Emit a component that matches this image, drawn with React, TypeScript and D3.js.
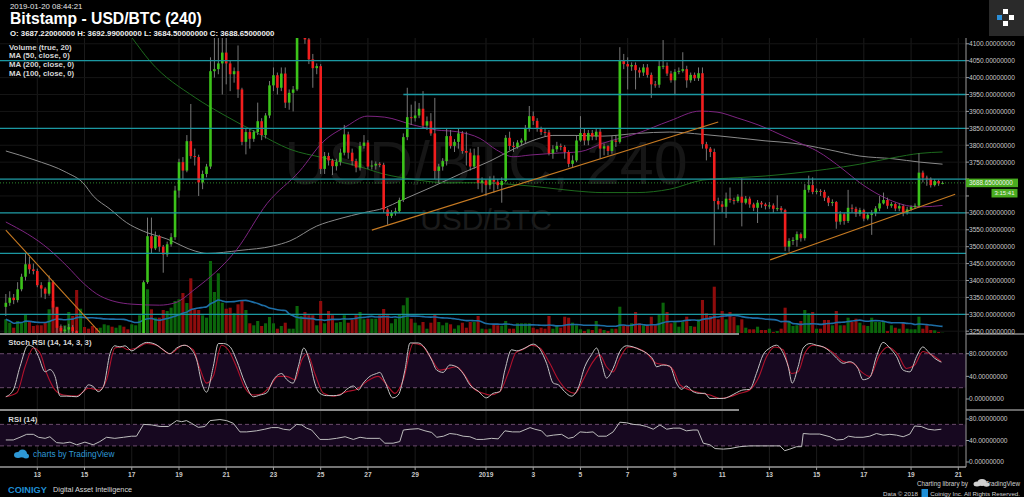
import React from "react";
import * as d3 from "d3";

// ---------- data ----------
const START = Date.UTC(2018, 11, 11, 16); // first 4h bar
const BAR_MS = 4 * 3600 * 1000;
const firstOpen = 3322;

const closes = [
  3334, 3349, 3342, 3374, 3411, 3448, 3433, 3428, 3386, 3376,
  3361, 3395, 3320, 3260, 3250, 3255, 3262, 3250, 3215, 3228,
  3205, 3195, 3185, 3180, 3195, 3205, 3212, 3200, 3210, 3218,
  3208, 3200, 3212, 3222, 3240, 3395, 3531, 3495, 3531, 3500,
  3477, 3507, 3528, 3666, 3750, 3725, 3812, 3768, 3765, 3690,
  3715, 3737, 4019, 4025, 4042, 4074, 4042, 4010, 4019, 3965,
  3810, 3839, 3819, 3839, 3871, 3830, 3888, 3977, 4007, 3970,
  4012, 3926, 3955, 3965, 4140, 4180, 4113, 4054, 4028, 4034,
  3730, 3768, 3755, 3738, 3751, 3778, 3832, 3778, 3753, 3734,
  3798, 3808, 3737, 3740, 3745, 3742, 3610, 3591, 3600, 3605,
  3638, 3824, 3883, 3880, 3888, 3908, 3858, 3871, 3835, 3724,
  3737, 3753, 3827, 3798, 3810, 3835, 3783, 3778, 3737, 3770,
  3689, 3696, 3682, 3699, 3692, 3682, 3694, 3822, 3798, 3795,
  3808, 3814, 3849, 3886, 3872, 3849, 3839, 3838, 3776, 3788,
  3798, 3795, 3780, 3745, 3755, 3814, 3836, 3814, 3836, 3826,
  3840, 3790, 3797, 3783, 3814, 3810, 4050, 4040, 4033, 4037,
  4022, 4015, 4030, 4008, 3980, 3979, 4034, 4035, 4012, 3992,
  4017, 4020, 4025, 3992, 4008, 3998, 4013, 3803, 3790, 3780,
  3635, 3625, 3618, 3642, 3638, 3635, 3648, 3630, 3642, 3625,
  3615, 3630, 3625, 3620, 3622, 3612, 3614, 3608, 3500, 3517,
  3520, 3537, 3525, 3668, 3682, 3662, 3665, 3662, 3645, 3630,
  3632, 3574, 3596, 3576, 3615, 3612, 3597, 3608, 3583, 3594,
  3599, 3613, 3628, 3638, 3621, 3626, 3613, 3620, 3600, 3610,
  3617, 3621, 3719, 3704, 3701, 3682, 3694, 3687.22, 3688.65,
];

const highs = [
  3360, 3368, 3360, 3395, 3420, 3482, 3470, 3450, 3435, 3395,
  3380, 3415, 3400, 3322, 3270, 3265, 3272, 3268, 3252, 3238,
  3232, 3210, 3200, 3192, 3200, 3212, 3222, 3218, 3216, 3226,
  3225, 3212, 3220, 3230, 3244, 3400, 3586, 3586, 3545, 3535,
  3505, 3515, 3540, 3680, 3760, 3765, 3830, 3922, 3790, 3772,
  3725, 3745, 4060, 4150, 4150, 4150, 4140, 4050, 4030, 4095,
  3970, 3850, 3850, 3845, 3926, 3880, 3895, 3990, 4030, 4015,
  4030, 4030, 3965, 3975, 4170, 4230, 4190, 4120, 4070, 4042,
  4040, 3780, 3778, 3760, 3760, 3790, 3860, 3840, 3790, 3760,
  3810, 3830, 3815, 3755, 3752, 3750, 3748, 3615, 3608, 3615,
  3645, 3835, 3970, 3920, 3930, 3925, 3960, 3885, 3895, 3940,
  3745, 3762, 3850, 3845, 3818, 3850, 3842, 3840, 3790, 3790,
  3795, 3705, 3700, 3708, 3710, 3700, 3705, 3830, 3840, 3810,
  3815, 3820, 3860, 3916, 3900, 3880, 3855, 3848, 3845, 3800,
  3810, 3805, 3800, 3785, 3770, 3830, 3886, 3850, 3845, 3845,
  3850, 3848, 3805, 3800, 3830, 3830, 4090, 4070, 4060, 4045,
  4045, 4030, 4040, 4040, 4015, 3990, 4050, 4111, 4045, 4020,
  4025, 4030, 4075, 4035, 4015, 4015, 4030, 4030, 3810, 3795,
  3790, 3645, 3635, 3660, 3675, 3645, 3655, 3702, 3650, 3648,
  3630, 3638, 3635, 3630, 3632, 3628, 3652, 3620, 3612, 3525,
  3528, 3545, 3542, 3685, 3710, 3705, 3672, 3670, 3668, 3650,
  3640, 3635, 3605, 3600, 3668, 3625, 3618, 3615, 3612, 3600,
  3608, 3620, 3650, 3660, 3645, 3632, 3630, 3628, 3625, 3618,
  3622, 3628, 3776, 3725, 3710, 3705, 3700, 3698, 3692.99,
];

const lows = [
  3295, 3325, 3330, 3335, 3368, 3400, 3420, 3418, 3380, 3350,
  3345, 3355, 3300, 3245, 3235, 3240, 3245, 3235, 3205, 3208,
  3195, 3185, 3175, 3170, 3172, 3190, 3198, 3192, 3195, 3205,
  3200, 3192, 3195, 3205, 3215, 3235, 3390, 3480, 3490, 3485,
  3423, 3470, 3500, 3520, 3645, 3700, 3720, 3760, 3740, 3650,
  3670, 3705, 3730, 4000, 4010, 3950, 3980, 3960, 3985, 3940,
  3800, 3773, 3790, 3810, 3830, 3815, 3820, 3880, 3960, 3950,
  3960, 3910, 3905, 3900, 3960, 4120, 4100, 4040, 3970, 4010,
  3715, 3715, 3740, 3712, 3725, 3740, 3770, 3760, 3740, 3720,
  3725, 3790, 3730, 3728, 3728, 3735, 3600, 3565, 3585, 3592,
  3600, 3632, 3815, 3860, 3870, 3880, 3850, 3845, 3828, 3700,
  3689, 3725, 3740, 3790, 3780, 3790, 3775, 3740, 3725, 3730,
  3670, 3660, 3650, 3670, 3660, 3670, 3630, 3690, 3785, 3780,
  3790, 3800, 3805, 3840, 3860, 3840, 3830, 3825, 3770, 3760,
  3780, 3785, 3760, 3735, 3733, 3750, 3810, 3800, 3800, 3815,
  3815, 3760, 3770, 3770, 3775, 3795, 3805, 4025, 3965, 4020,
  3965, 4000, 4005, 4000, 3940, 3970, 3970, 4025, 4005, 3985,
  3950, 4010, 4015, 3970, 3985, 3990, 3990, 3790, 3755, 3765,
  3504, 3610, 3600, 3585, 3630, 3625, 3630, 3560, 3625, 3615,
  3605, 3570, 3615, 3610, 3612, 3600, 3605, 3600, 3487, 3485,
  3505, 3500, 3515, 3518, 3660, 3655, 3655, 3650, 3635, 3620,
  3620, 3553, 3565, 3565, 3570, 3600, 3588, 3590, 3575, 3578,
  3535, 3590, 3605, 3625, 3612, 3615, 3605, 3605, 3590, 3595,
  3605, 3612, 3615, 3690, 3680, 3675, 3678, 3680, 3684.5,
];

const volumes = [
  1370, 1030, 530, 1200, 1100, 1870, 1100, 700, 770, 770,
  1030, 2370, 3200, 2630, 700, 770, 2100, 1700, 4300, 2430,
  600, 430, 700, 500, 530, 870, 770, 630, 530, 770,
  630, 370, 870, 770, 1770, 5000, 4370, 2370, 1530, 1530,
  2300, 2200, 2530, 3200, 3370, 4000, 3000, 5470, 2370, 2300,
  1770, 1530, 7200, 4100, 5970, 3030, 2430, 2530, 1970, 2870,
  3270, 2300, 970, 770, 1200, 700, 970, 1600, 970, 430,
  700, 1030, 430, 430, 2700, 1700, 2100, 1770, 1770, 770,
  3200, 970, 2200, 1770, 1030, 1100, 1770, 1030, 1300, 1770,
  2100, 1370, 1430, 1430, 1430, 1770, 2400, 1770, 970, 1430,
  1870, 2770, 3530, 1430, 1030, 770, 1100, 430, 1030, 1870,
  1100, 770, 1030, 870, 430, 770, 1030, 530, 1100, 1100,
  1700, 430, 370, 430, 870, 770, 700, 1200, 430, 430,
  970, 970, 970, 970, 530, 370, 530, 430, 1700, 430,
  770, 530, 1630, 1530, 1030, 770, 370, 200, 370, 300,
  1200, 430, 300, 200, 430, 430, 2630, 770, 770, 970,
  2100, 970, 770, 770, 1630, 770, 1870, 3030, 2100, 970,
  1200, 630, 1100, 1630, 700, 630, 1370, 3300, 1970, 1700,
  4630, 1370, 2200, 1370, 2100, 1630, 770, 1370, 530, 370,
  370, 630, 300, 300, 430, 100, 200, 430, 2530, 1100,
  700, 770, 1200, 2300, 1970, 2100, 430, 430, 1300, 1300,
  770, 2200, 770, 770, 1530, 1100, 1430, 1030, 770, 700,
  1530, 1100, 1100, 1100, 200, 770, 530, 430, 1030, 430,
  370, 370, 1630, 430, 770, 300, 270, 100, 30,
];

// moving averages: [bar index, price]
const ma50: [number, number][] = [
  [0, 3573], [11, 3492], [15.5, 3443], [20, 3389], [24, 3354], [32, 3330], [39, 3327], [43, 3334],
  [48, 3374], [58.7, 3492], [66.4, 3628], [74.7, 3724], [80.6, 3810], [86.7, 3857], [91.8, 3886],
  [96.3, 3883], [103.5, 3860], [109.5, 3845], [114.6, 3840], [120.5, 3820], [124.7, 3786],
  [128.9, 3766], [133.2, 3771], [139, 3776], [145.9, 3781], [151.7, 3806], [160.4, 3835],
  [168.7, 3872], [176.4, 3901], [180.7, 3898], [185.8, 3881], [192.9, 3852], [196.7, 3832],
  [201.8, 3806], [206.1, 3783], [212.7, 3729], [217, 3689], [222.1, 3652], [226.4, 3630],
  [229.7, 3620], [233, 3618], [238, 3622],
];
const ma100: [number, number][] = [
  [0, 3783], [6.9, 3758], [15.5, 3719], [19.6, 3689], [22.2, 3650], [26.5, 3611], [30.7, 3571],
  [34.9, 3546], [40.9, 3523], [48.1, 3487], [51.1, 3480], [59.5, 3489], [67.9, 3502], [72.2, 3517],
  [79, 3561], [84.9, 3583], [90.7, 3600], [96.3, 3615], [100.1, 3635], [107.8, 3674], [116.2, 3719],
  [123, 3753], [128.9, 3788], [134.9, 3818], [139, 3829], [144.6, 3829], [151.7, 3827],
  [160.4, 3835], [168.7, 3839], [177.1, 3832], [185.8, 3822], [192.9, 3813], [200, 3806],
  [208.6, 3788], [217, 3768], [225.4, 3760], [232.3, 3750], [238, 3744],
];
const ma200: [number, number][] = [
  [28, 4180], [32.3, 4114], [36.6, 4049], [48.1, 3941], [55.2, 3891], [63.8, 3837], [72.2, 3788],
  [80.6, 3763], [89.2, 3739], [96.3, 3714], [103.5, 3699], [112.1, 3689], [120.5, 3689],
  [128.9, 3684], [137.5, 3674], [144.6, 3665], [151.7, 3660], [160.4, 3660], [168.7, 3670],
  [177.1, 3697], [185.8, 3704], [192.9, 3709], [200, 3717], [208.6, 3729], [217, 3744],
  [225.4, 3763], [232.3, 3776], [238, 3780],
];

const stochK: [number, number][] = [
  [0, 4], [1.9, 16], [3.6, 57], [5.7, 95], [7, 92], [8.3, 75], [10, 48], [11.2, 52], [12.5, 40], [13.8, 5],
  [15.5, 5], [18, 4], [19.7, 13], [21, 25], [22.2, 22], [23.5, 13], [24.8, 22], [26.5, 81], [27.7, 94],
  [29, 92], [30.3, 94], [32, 85], [34.1, 95], [35.8, 100], [37.9, 97], [40, 87], [41.7, 80], [43.4, 90],
  [45.5, 95], [47.2, 87], [48.5, 69], [49.8, 28], [51, 12], [52.7, 57], [54, 98], [55.3, 98], [57, 92],
  [58.6, 69], [60.8, 28], [62.9, 4], [64.6, 7], [66.3, 11], [68, 34], [70.1, 45], [71.3, 35], [73, 28],
  [74.3, 57], [75.7, 90], [77.3, 63], [78.5, 28], [79.8, 10], [81.5, 6], [83.2, 6], [84.9, 7], [86.6, 17],
  [88.3, 23], [89.6, 16], [90.8, 28], [92.5, 40], [94.2, 45], [95, 47], [96.3, 31], [98.3, 2], [99.7, 7],
  [101.4, 51], [102.7, 99], [104.8, 99], [106.5, 90], [108.2, 69], [109.5, 51], [111.1, 47], [112.8, 60],
  [114.5, 57], [116.2, 45], [117.9, 25], [120, 14], [122.1, 2], [123.8, 10], [125.5, 13], [126.8, 51],
  [128.5, 87], [129.8, 85], [131.9, 90], [134, 97], [135.7, 88], [137.4, 63], [139.1, 28], [140.4, 25],
  [142, 13], [143.7, 5], [145.4, 19], [147.1, 57], [148.8, 78], [150.1, 90], [151.4, 63], [152.6, 37],
  [154.3, 54], [156, 84], [157.7, 94], [159.4, 92], [161.1, 87], [162.8, 81], [164.5, 69], [165.3, 57],
  [167, 60], [168.7, 58], [170.4, 28], [171.7, 17], [172.9, 23], [174.6, 13], [176.3, 10], [177.6, 10],
  [178.9, 1], [180.6, 1], [182.3, 1], [184, 5], [185.6, 11], [187.3, 16], [189, 17], [190.7, 45],
  [192.4, 78], [194.1, 90], [195.8, 95], [197.5, 81], [198.8, 57], [199.8, 28], [201.3, 57], [202.6, 90],
  [204.3, 98], [206, 95], [207.7, 92], [209.4, 84], [211.1, 72], [212.8, 63], [214.4, 66], [216.5, 54],
  [217.8, 34], [219.5, 38], [221.2, 75], [222.9, 100], [224.6, 90], [226.3, 75], [228, 51], [229.7, 48],
  [231.4, 75], [233, 92], [234.3, 84], [236, 72], [237.7, 65],
];
const stochD: [number, number][] = [
  [0, 4], [2.8, 11], [4.9, 57], [7, 90], [8.7, 81], [10.4, 45], [12.5, 16], [14.6, 7], [18, 5], [21, 19],
  [23.9, 16], [25.6, 34], [27.7, 90], [29.4, 92], [31.1, 87], [33.2, 90], [35.8, 98], [38.3, 95],
  [41.7, 80], [45.1, 95], [47.6, 87], [49.3, 54], [51, 28], [52.7, 40], [54.8, 95], [56.5, 87],
  [58.6, 57], [60.8, 19], [62.9, 7], [65, 9], [67.1, 22], [69.2, 40], [71.3, 40], [73.5, 34], [75.2, 69],
  [76.6, 80], [78.5, 45], [80.7, 10], [83.2, 5], [86.6, 13], [89.1, 17], [91.7, 31], [94.6, 40],
  [96.8, 25], [98.9, 10], [101, 34], [103.5, 98], [105.6, 95], [107.8, 75], [110.3, 51], [112.4, 54],
  [114.5, 57], [116.6, 42], [118.8, 19], [121.3, 10], [123, 7], [125.5, 13], [127.6, 45], [129.6, 82],
  [131.5, 88], [133.6, 95], [135.7, 90], [138.2, 63], [140.4, 34], [142.5, 16], [144.6, 10], [146.7, 34],
  [149.2, 66], [150.9, 78], [152.6, 57], [154.3, 48], [156, 72], [158.1, 92], [160.3, 90], [162.8, 81],
  [165.3, 63], [167.9, 60], [169.6, 51], [171.3, 25], [173.8, 16], [176.3, 11], [178.9, 7], [181.4, 1],
  [184, 4], [186.5, 10], [189, 16], [191.2, 37], [193.3, 75], [195.4, 92], [197.5, 87], [199.6, 45],
  [201.3, 48], [203, 81], [205.1, 95], [207.7, 92], [210.2, 82], [212.8, 66], [215.3, 63], [217.4, 48],
  [219.5, 40], [222, 78], [224.1, 92], [226.7, 78], [228.8, 54], [230.9, 60], [233, 84], [235.2, 78],
  [237.7, 66],
];
const rsi: [number, number][] = [
  [0, 41], [1.9, 41], [3.6, 46], [5.3, 51.5], [7, 51.5], [8.3, 46], [10, 44], [11.2, 47], [12.9, 36],
  [14.6, 35], [16.3, 37], [18, 32], [20.1, 37], [22.2, 32], [23.9, 38], [25.6, 46], [27.7, 44],
  [29.9, 46], [31.9, 48], [33.2, 48], [35, 70], [37.1, 69], [39.2, 66], [41.3, 66], [43.4, 77],
  [44.7, 75], [45.9, 77], [47.2, 72], [48.9, 64.5], [50.6, 66], [51.9, 77], [54.4, 79], [56.1, 77],
  [57.8, 72], [59.5, 56], [61.2, 56], [63.7, 58], [65.8, 61], [67.5, 64], [69.2, 64], [70.5, 61],
  [72.2, 59.5], [73.9, 70], [75.2, 69], [76.4, 63], [77.7, 59.5], [79.8, 42], [81.9, 42], [84, 44],
  [86.2, 47], [88.3, 42], [90, 46], [91.7, 44], [93.8, 44], [95, 44], [96.3, 35], [98.4, 35],
  [100.1, 38], [101, 59.5], [102.7, 61], [104.8, 62], [106.5, 58], [108.2, 55], [109.5, 46],
  [111.2, 48], [112.8, 53], [114.5, 51.5], [116.2, 48], [117.9, 47], [119.6, 42], [121.3, 42],
  [123.4, 44], [125.1, 43], [126.8, 58], [128.7, 56], [130.6, 56], [133.2, 64], [134.4, 61],
  [136.1, 58], [137.4, 48], [139.1, 50], [141.2, 51.5], [142.9, 44], [144.2, 46], [145.9, 56],
  [147.6, 55], [149.2, 56], [150.5, 48], [152.6, 48], [154.3, 56], [156, 74], [157.7, 73], [159.4, 70],
  [161.1, 69], [162.8, 66], [164.5, 61], [166.2, 69], [167.9, 61], [169.6, 63], [171.3, 63],
  [172.9, 58], [174.6, 59.5], [175.8, 59.5], [177.2, 35], [178.9, 32], [180.2, 25], [182.3, 24],
  [184, 25], [186.5, 28.5], [189, 30], [191.6, 30], [194.1, 30], [196.7, 30], [197.9, 21], [199.2, 24],
  [200.9, 28.5], [202.2, 28.5], [202.6, 53], [204.3, 52], [206.8, 52], [209.4, 47], [211.1, 41],
  [212.8, 42], [214.1, 48], [215.8, 46], [217.8, 46], [219.5, 48], [221.2, 53], [222.9, 50],
  [224.6, 51.5], [226.3, 50], [228, 47], [229.7, 52], [230.9, 67], [232.6, 66], [234.3, 61],
  [236, 59.5], [237.7, 61],
];

// horizontal drawn levels (price, first bar index)
const levelPrices = [4050, 3950, 3850, 3700, 3600, 3480, 3300];
const levelFrom = [0, 101, 0, 0, 0, 0, 0];
// trend lines: [[barIndex, price], [barIndex, price]]
const trendLines: [number, number][][] = [
  [[0, 3549], [23.9, 3246]],
  [[93, 3549], [181, 3869]],
  [[194.2, 3461], [241.2, 3655]],
];

const priceTicks = [3250, 3300, 3350, 3400, 3450, 3500, 3550, 3600, 3650, 3700, 3750, 3800, 3850, 3900, 3950, 4000, 4050, 4100];
const oscTicks = [0, 40, 80];
const dateTicks = [
  "2018-12-13", "2018-12-15", "2018-12-17", "2018-12-19", "2018-12-21", "2018-12-23", "2018-12-25",
  "2018-12-27", "2018-12-29", "2019-01-01", "2019-01-03", "2019-01-05", "2019-01-07", "2019-01-09",
  "2019-01-11", "2019-01-13", "2019-01-15", "2019-01-17", "2019-01-19", "2019-01-21",
];
const dateLabels = ["13", "15", "17", "19", "21", "23", "25", "27", "29", "2019", "3", "5", "7", "9", "11", "13", "15", "17", "19", "21"];
const countdown = "3:15:41";

// ---------- component ----------
const FONT = "'Liberation Sans', Arial, sans-serif";
const UP = "#3cc31a";
const DOWN = "#f21e1e";
const VUP = "#0b650b";
const VDOWN = "#8e0c0c";
const AXIS_TXT = "#c8c8c8";

export default function App() {
  const W = 1024, H = 497;
  const x = d3.scaleTime()
    .domain([new Date(Date.UTC(2018, 11, 13)), new Date(Date.UTC(2019, 0, 21))])
    .range([37.3, 958.3]);
  const bx = (i: number) => x(new Date(START + i * BAR_MS));
  const y = d3.scaleLinear().domain([3300, 4050]).range([314.3, 60.7]);
  const yVol = d3.scaleLinear().domain([0, 8000]).range([333, 253]);
  const yStoch = d3.scaleLinear().domain([0, 100]).range([399, 342.4]);
  const yRsi = d3.scaleLinear().domain([0, 100]).range([462, 408.25]);

  const opens = closes.map((c, i) => (i === 0 ? firstOpen : closes[i - 1]));
  const volMA = volumes.map((_, i) => d3.mean(volumes.slice(Math.max(0, i - 19), i + 1)) as number);

  const priceLine = d3.line<[number, number]>().x((d) => bx(d[0])).y((d) => y(d[1])).curve(d3.curveMonotoneX);
  const stochLine = d3.line<[number, number]>().x((d) => bx(d[0])).y((d) => yStoch(d[1])).curve(d3.curveMonotoneX);
  const rsiLine = d3.line<[number, number]>().x((d) => bx(d[0])).y((d) => yRsi(d[1])).curve(d3.curveLinear);
  const volLine = d3.line<number>().x((_, i) => bx(i)).y((d) => yVol(d)).curve(d3.curveMonotoneX);

  const last = closes.length - 1;
  const f8 = (v: number) => v.toFixed(8);
  const ohlc = `O: ${f8(opens[last])} H: ${f8(highs[last])} L: ${f8(lows[last])} C: ${f8(closes[last])}`;

  const PANE_R = 966;
  const bodyW = 2.6;
  const volW = 3.1;
  const yLast = y(closes[last]);
  const tagTop = yLast - 4.3;
  const tagBottom = yLast + 14.6;

  return (
    <svg width={W} height={H} viewBox={`0 0 ${W} ${H}`}
      style={{ position: "fixed", left: 0, top: 0, background: "#000", display: "block" }}
      fontFamily={FONT}>
      <defs>
        <clipPath id="mainClip"><rect x={0} y={38} width={PANE_R} height={295} /></clipPath>
        <clipPath id="stochClip"><rect x={0} y={335} width={PANE_R} height={74} /></clipPath>
        <clipPath id="rsiClip"><rect x={0} y={411} width={PANE_R} height={55} /></clipPath>
      </defs>
      <rect x={0} y={0} width={W} height={H} fill="#000" />

      {/* grid */}
      {dateTicks.map((d, k) => {
        const gx = x(new Date(d + "T00:00:00Z"));
        return <line key={"vg" + k} x1={gx} x2={gx} y1={38} y2={467} stroke="#1b1b1b" strokeWidth={1} />;
      })}
      {priceTicks.map((p) => (
        <line key={"hg" + p} x1={0} x2={PANE_R} y1={y(p)} y2={y(p)} stroke="#151515" strokeWidth={1} />
      ))}

      {/* watermark */}
      <text x={486} y={184} textAnchor="middle" fontSize={61} fill="#161616">USD/BTC, 240</text>
      <text x={486} y={230} textAnchor="middle" fontSize={30} fill="#1b1b1b">USD/BTC</text>

      <g clipPath="url(#mainClip)">
        {/* volume */}
        {volumes.map((v, i) => (
          <rect key={"v" + i} x={bx(i) - volW / 2} y={yVol(v)} width={volW} height={333 - yVol(v)}
            fill={closes[i] >= opens[i] ? VUP : VDOWN} />
        ))}
        <path d={volLine(volMA) || ""} fill="none" stroke="#1d6ea6" strokeWidth={1.6} />

        {/* moving averages */}
        <path d={priceLine(ma100) || ""} fill="none" stroke="#8a8a8a" strokeWidth={1} />
        <path d={priceLine(ma200) || ""} fill="none" stroke="#1d6a1d" strokeWidth={1} />
        <path d={priceLine(ma50) || ""} fill="none" stroke="#7d2480" strokeWidth={1} />

        {/* current price dotted line */}
        <line x1={0} x2={PANE_R} y1={yLast} y2={yLast} stroke="#2e8a2e" strokeWidth={1} strokeDasharray="1 2" />

        {/* candles */}
        {closes.map((c, i) => {
          const o = opens[i];
          const cx = bx(i);
          const top = y(Math.max(o, c));
          const bh = Math.max(1, Math.abs(y(o) - y(c)));
          return (
            <g key={"c" + i}>
              <line x1={cx} x2={cx} y1={y(highs[i])} y2={y(lows[i])} stroke="#858585" strokeWidth={0.9} />
              <rect x={cx - bodyW / 2} y={top} width={bodyW} height={bh} fill={c >= o ? UP : DOWN} />
            </g>
          );
        })}

        {/* drawings */}
        {levelPrices.map((p, k) => (
          <line key={"lv" + p} x1={bx(levelFrom[k]) - (levelFrom[k] === 0 ? 6 : 0)} x2={PANE_R} y1={y(p)} y2={y(p)}
            stroke="#1b98a2" strokeWidth={1.3} />
        ))}
        {trendLines.map((t, k) => (
          <line key={"tl" + k} x1={bx(t[0][0])} y1={y(t[0][1])} x2={bx(t[1][0])} y2={y(t[1][1])}
            stroke="#c67a22" strokeWidth={1.1} />
        ))}
      </g>

      {/* Stoch RSI pane */}
      <g clipPath="url(#stochClip)">
        <rect x={0} y={yStoch(80)} width={PANE_R} height={yStoch(20) - yStoch(80)} fill="#170820" />
        <line x1={0} x2={PANE_R} y1={yStoch(80)} y2={yStoch(80)} stroke="#6a4a6c" strokeDasharray="4 3" />
        <line x1={0} x2={PANE_R} y1={yStoch(20)} y2={yStoch(20)} stroke="#6a4a6c" strokeDasharray="4 3" />
        <path d={stochLine(stochD) || ""} fill="none" stroke="#b0122c" strokeWidth={1.1} />
        <path d={stochLine(stochK) || ""} fill="none" stroke="#c4c4c4" strokeWidth={1} />
      </g>

      {/* RSI pane */}
      <g clipPath="url(#rsiClip)">
        <rect x={0} y={yRsi(70)} width={PANE_R} height={yRsi(30) - yRsi(70)} fill="#170820" />
        <line x1={0} x2={PANE_R} y1={yRsi(70)} y2={yRsi(70)} stroke="#6a4a6c" strokeDasharray="4 3" />
        <line x1={0} x2={PANE_R} y1={yRsi(30)} y2={yRsi(30)} stroke="#6a4a6c" strokeDasharray="4 3" />
        <path d={rsiLine(rsi) || ""} fill="none" stroke="#bdbdbd" strokeWidth={1} />
      </g>

      {/* pane separators & axes */}
      <line x1={0} x2={739} y1={334} y2={334} stroke="#8a8a8a" strokeWidth={2} />
      <line x1={0} x2={739} y1={410} y2={410} stroke="#8a8a8a" strokeWidth={2} />
      <line x1={PANE_R} x2={1024} y1={334} y2={334} stroke="#8a8a8a" strokeWidth={1.5} />
      <line x1={PANE_R} x2={1024} y1={410} y2={410} stroke="#8a8a8a" strokeWidth={1.5} />
      <line x1={0} x2={PANE_R} y1={467} y2={467} stroke="#9a9a9a" strokeWidth={1.3} />
      <line x1={PANE_R} x2={PANE_R} y1={38} y2={467} stroke="#9a9a9a" strokeWidth={1} />

      {/* price axis (labels hidden behind the live-price tag are not drawn) */}
      {priceTicks.map((p) => {
        const hidden = y(p) + 3 > tagTop && y(p) - 3 < tagBottom;
        return (
          <g key={"pt" + p}>
            <line x1={PANE_R} x2={PANE_R + 3} y1={y(p)} y2={y(p)} stroke="#9a9a9a" />
            {!hidden && <text x={969} y={y(p) + 2.4} fontSize={6.6} fill={AXIS_TXT}>{p.toFixed(8)}</text>}
          </g>
        );
      })}
      {oscTicks.map((v) => (
        <g key={"st" + v}>
          <line x1={PANE_R} x2={PANE_R + 3} y1={yStoch(v)} y2={yStoch(v)} stroke="#9a9a9a" />
          <text x={969} y={yStoch(v) + 2.4} fontSize={6.6} fill={AXIS_TXT}>{v.toFixed(8)}</text>
          <line x1={PANE_R} x2={PANE_R + 3} y1={yRsi(v)} y2={yRsi(v)} stroke="#9a9a9a" />
          <text x={969} y={yRsi(v) + 2.4} fontSize={6.6} fill={AXIS_TXT}>{v.toFixed(8)}</text>
        </g>
      ))}

      {/* current price tag + countdown */}
      <rect x={PANE_R} y={tagTop} width={52} height={8.6} fill="#49ad1f" />
      <text x={969} y={yLast + 2.2} fontSize={6.3} fill="#f2f2f2">{f8(closes[last])}</text>
      <rect x={991.5} y={yLast + 6} width={26} height={8.6} fill="#49ad1f" />
      <text x={1004.5} y={yLast + 12.6} fontSize={6} fill="#f2f2f2" textAnchor="middle">{countdown}</text>

      {/* time axis */}
      {dateTicks.map((d, k) => {
        const gx = x(new Date(d + "T00:00:00Z"));
        return (
          <g key={"dt" + k}>
            <line x1={gx} x2={gx} y1={467} y2={470} stroke="#9a9a9a" />
            <text x={gx} y={477} fontSize={6.6} fontWeight="bold" textAnchor="middle" fill={AXIS_TXT}>{dateLabels[k]}</text>
          </g>
        );
      })}

      {/* header */}
      <text x={10} y={9} fontSize={7.8} fill="#e6e6e6">2019-01-20 08:44:21</text>
      <text x={10} y={24} fontSize={15.7} fontWeight="bold" fill="#ffffff">Bitstamp - USD/BTC (240)</text>
      <text x={10} y={36} fontSize={7.8} fontWeight="bold" fill="#f0f0f0">{ohlc}</text>
      {["Volume (true, 20)", "MA (50, close, 0)", "MA (200, close, 0)", "MA (100, close, 0)"].map((t, k) => (
        <text key={"lg" + k} x={9} y={49.5 + k * 8.9} fontSize={7.8} fontWeight="bold" fill="#d6d6d6">{t}</text>
      ))}
      <text x={8.3} y={344.8} fontSize={7.8} fontWeight="bold" fill="#d6d6d6">Stoch RSI (14, 14, 3, 3)</text>
      <text x={8.3} y={421.8} fontSize={7.8} fontWeight="bold" fill="#d6d6d6">RSI (14)</text>

      {/* top-right logo box */}
      <rect x={989} y={0} width={35} height={36} fill="#2a2a2a" />
      <rect x={1003} y={9} width={5} height={5} fill="#ffffff" />
      <rect x={1009} y={15} width={5} height={5} fill="#ffffff" />
      <rect x={1003} y={21} width={5} height={5} fill="#ffffff" />
      <rect x={997} y={15} width={5} height={5} fill="#2b8fd8" />

      {/* charts by TradingView */}
      <g fill="#2e98d6">
        <ellipse cx={18} cy={455} rx={4} ry={3} />
        <ellipse cx={22.5} cy={453.5} rx={4.5} ry={4} />
        <ellipse cx={26} cy={456} rx={3} ry={2.5} />
      </g>
      <text x={33} y={457} fontSize={8.3} fill="#2e98d6">charts by TradingView</text>

      {/* footer */}
      <text x={8} y={492.5} fontSize={9.2} fontWeight="bold" fill="#1f8fd6">COINIGY</text>
      <text x={53} y={491.8} fontSize={7.3} fill="#d8d8d8">Digital Asset Intelligence</text>
      <text x={968} y={485.5} fontSize={6.3} textAnchor="end" fill="#d0d0d0">Charting library by</text>
      <g fill="#d0d0d0">
        <ellipse cx={977} cy={484} rx={3.5} ry={2.5} />
        <ellipse cx={982} cy={482.5} rx={4.5} ry={3.5} />
        <ellipse cx={986.5} cy={484.5} rx={3} ry={2.2} />
      </g>
      <text x={1020} y={485.5} fontSize={6.3} textAnchor="end" fill="#d0d0d0">TradingView</text>
      <text x={883} y={495.5} fontSize={6.2} fill="#d0d0d0">Data © 2018</text>
      <rect x={921.5} y={489} width={6.5} height={8} fill="#1f8fd6" />
      <text x={1020} y={495.5} fontSize={6.2} textAnchor="end" fill="#d0d0d0">Coinigy Inc. All Rights Reserved.</text>
    </svg>
  );
}
